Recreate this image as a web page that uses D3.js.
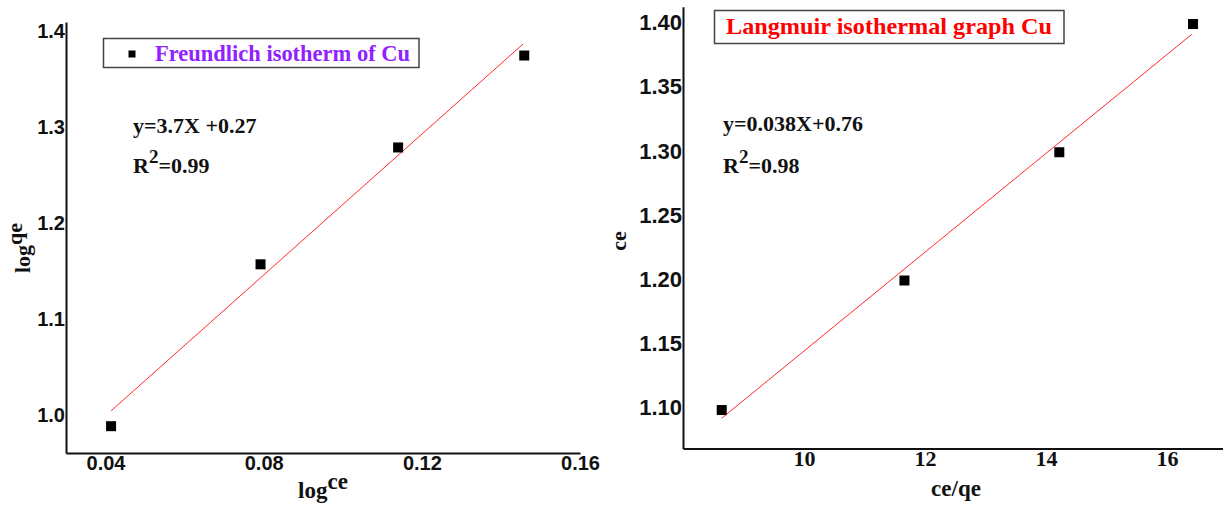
<!DOCTYPE html>
<html>
<head>
<meta charset="utf-8">
<script src="https://cdn.jsdelivr.net/npm/d3@7"></script>
<style>
  html, body { margin: 0; padding: 0; background: #fff; }
  svg { display: block; }
  .tick-sans text { font-family: "Liberation Sans", Arial, sans-serif; font-weight: bold; fill: #111; }
  .tick-serif text { font-family: "Liberation Serif", "Times New Roman", serif; font-weight: bold; fill: #111; }
  .serif { font-family: "Liberation Serif", "Times New Roman", serif; font-weight: bold; }
</style>
</head>
<body>
<svg id="chart" width="1223" height="508"></svg>
<script>
// Freundlich isotherm (log qe vs log ce)
const freundlichX = [0.0414, 0.0792, 0.1140, 0.1459];
const freundlichY = [0.988, 1.157, 1.279, 1.375];
const freundlichFitX = [0.0414, 0.1456];
const freundlichFitY = [1.004, 1.387];
const freundlichXTicks = [0.04, 0.08, 0.12, 0.16];
const freundlichYTicks = [1.0, 1.1, 1.2, 1.3, 1.4];
const freundlichXDomain = [0.03, 0.16];
const freundlichYDomain = [0.96, 1.41];

// Langmuir isotherm (ce vs ce/qe)
const langmuirX = [8.64, 11.66, 14.22, 16.43];
const langmuirY = [1.098, 1.199, 1.299, 1.399];
const langmuirFitX = [8.64, 16.41];
const langmuirFitY = [1.0916, 1.391];
const langmuirXTicks = [10, 12, 14, 16];
const langmuirYTicks = [1.10, 1.15, 1.20, 1.25, 1.30, 1.35, 1.40];
const langmuirXDomain = [8, 17];
const langmuirYDomain = [1.068, 1.4125];

const svg = d3.select("#chart");

function drawPanel(cfg) {
  const g = svg.append("g");
  const x = d3.scaleLinear().domain(cfg.xDomain).range(cfg.xRange);
  const y = d3.scaleLinear().domain(cfg.yDomain).range(cfg.yRange);

  // x axis
  const xa = g.append("g")
    .attr("class", cfg.xTickClass)
    .attr("transform", `translate(0,${cfg.yRange[0]})`)
    .call(d3.axisBottom(x).tickValues(cfg.xTicks).tickFormat(cfg.xFormat)
      .tickSize(0).tickPadding(cfg.xPad));
  xa.select(".domain").attr("stroke", "#111").attr("stroke-width", 2);
  xa.selectAll("text").style("font-size", cfg.xFont + "px");

  // y axis
  const ya = g.append("g")
    .attr("class", "tick-sans")
    .attr("transform", `translate(${cfg.xRange[0]},0)`)
    .call(d3.axisLeft(y).tickValues(cfg.yTicks).tickFormat(cfg.yFormat)
      .tickSize(0).tickPadding(1));
  ya.select(".domain").attr("stroke", "#111").attr("stroke-width", 2);
  ya.selectAll("text").style("font-size", cfg.yFont + "px");

  // fitted line
  const line = d3.line().x(d => x(d[0])).y(d => y(d[1]));
  g.append("path")
    .datum(d3.zip(cfg.fitX, cfg.fitY))
    .attr("d", line)
    .attr("fill", "none")
    .attr("stroke", "#ff2a2a")
    .attr("stroke-width", 1);

  // data points
  const s = 10;
  g.selectAll("rect.pt")
    .data(d3.zip(cfg.px, cfg.py))
    .join("rect")
    .attr("class", "pt")
    .attr("x", d => x(d[0]) - s / 2)
    .attr("y", d => y(d[1]) - s / 2)
    .attr("width", s)
    .attr("height", s)
    .attr("fill", "#000");

  // legend / title box
  const lb = cfg.legend;
  g.append("rect")
    .attr("x", lb.x).attr("y", lb.y).attr("width", lb.w).attr("height", lb.h)
    .attr("fill", "#fff").attr("stroke", "#444").attr("stroke-width", 1.5);
  if (lb.marker) {
    g.append("rect")
      .attr("x", lb.marker[0] - 3.5).attr("y", lb.marker[1] - 3.5)
      .attr("width", 7).attr("height", 7).attr("fill", "#000");
  }
  g.append("text")
    .attr("class", "serif")
    .attr("x", lb.tx).attr("y", lb.ty)
    .attr("textLength", lb.tw).attr("lengthAdjust", "spacingAndGlyphs")
    .style("font-size", "23px")
    .attr("fill", lb.color)
    .text(lb.text);

  // regression annotation
  const eq = cfg.eq;
  g.append("text")
    .attr("class", "serif")
    .attr("x", eq.x).attr("y", eq.y1)
    .style("font-size", "22px").attr("fill", "#111")
    .text(eq.line1);
  const r = g.append("text")
    .attr("class", "serif")
    .attr("x", eq.x).attr("y", eq.y2)
    .style("font-size", "22px").attr("fill", "#111");
  r.append("tspan").text("R");
  r.append("tspan").attr("dy", -10).style("font-size", "19px").text("2");
  r.append("tspan").attr("dy", 10).text(eq.r2);

  // x-axis title
  const xt = g.append("text")
    .attr("class", "serif")
    .attr("x", cfg.xTitle.x).attr("y", cfg.xTitle.y)
    .attr("text-anchor", "middle")
    .style("font-size", "23px").attr("fill", "#111");
  xt.append("tspan").text(cfg.xTitle.main);
  if (cfg.xTitle.sup) {
    xt.append("tspan").attr("dy", -9).text(cfg.xTitle.sup);
  }

  // y-axis title
  const yt = g.append("text")
    .attr("class", "serif")
    .attr("transform", `translate(${cfg.yTitle.x},${cfg.yTitle.y}) rotate(-90)`)
    .attr("text-anchor", "middle")
    .style("font-size", "22px").attr("fill", "#111");
  yt.append("tspan").text(cfg.yTitle.main);
  if (cfg.yTitle.sup) {
    yt.append("tspan").attr("dy", -8).text(cfg.yTitle.sup);
  }
}

drawPanel({
  xDomain: freundlichXDomain, yDomain: freundlichYDomain,
  xRange: [66, 580], yRange: [453, 22],
  xTicks: freundlichXTicks, yTicks: freundlichYTicks,
  xFormat: d3.format(".2f"), yFormat: d3.format(".1f"),
  xTickClass: "tick-sans", xFont: 20, yFont: 20, xPad: 3,
  px: freundlichX, py: freundlichY,
  fitX: freundlichFitX, fitY: freundlichFitY,
  legend: { x: 103.5, y: 38.5, w: 315.5, h: 29, marker: [132, 54],
            tx: 155, ty: 61, tw: 255, color: "#9121ff",
            text: "Freundlich isotherm of Cu" },
  eq: { x: 133, y1: 133, y2: 173, line1: "y=3.7X +0.27", r2: "=0.99" },
  xTitle: { x: 323, y: 498, main: "log", sup: "ce" },
  yTitle: { x: 30, y: 248, main: "log", sup: "qe" }
});

drawPanel({
  xDomain: langmuirXDomain, yDomain: langmuirYDomain,
  xRange: [683, 1227.5], yRange: [448.5, 6.7],
  xTicks: langmuirXTicks, yTicks: langmuirYTicks,
  xFormat: d3.format("d"), yFormat: d3.format(".2f"),
  xTickClass: "tick-serif", xFont: 22, yFont: 22, xPad: 2,
  px: langmuirX, py: langmuirY,
  fitX: langmuirFitX, fitY: langmuirFitY,
  legend: { x: 714.5, y: 10.5, w: 349.5, h: 33, marker: null,
            tx: 726, ty: 34, tw: 326, color: "#ff0000",
            text: "Langmuir isothermal graph Cu" },
  eq: { x: 723, y1: 131, y2: 173, line1: "y=0.038X+0.76", r2: "=0.98" },
  xTitle: { x: 956, y: 496, main: "ce/qe", sup: null },
  yTitle: { x: 626, y: 241, main: "ce", sup: null }
});
</script>
</body>
</html>
